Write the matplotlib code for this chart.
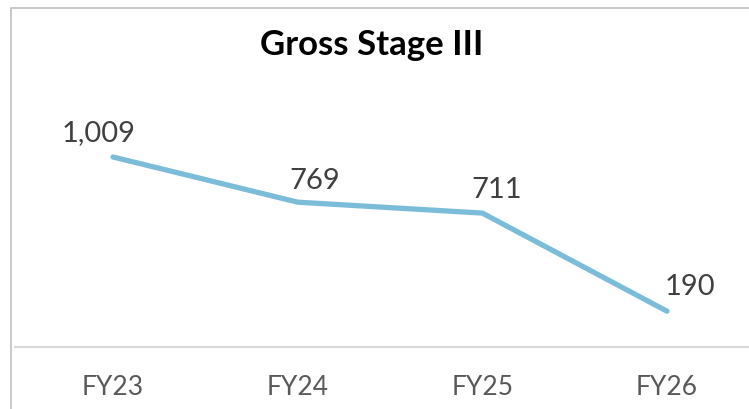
import matplotlib.pyplot as plt
from matplotlib.patches import Rectangle

# data
years = ["FY23", "FY24", "FY25", "FY26"]
gross_stage3 = [1009, 769, 711, 190]

fig = plt.figure(figsize=(7.49, 4.09), dpi=100)
ax = fig.add_axes([15/749, 1-347/409, 1-15/749, (347-121)/409])

x = list(range(len(years)))
ax.plot(x, gross_stage3, color="#7BBDD9", lw=3.8, solid_capstyle="round")

# label offsets in pixels (dx, dy) from each point
offs = [(-14, 24), (17, 21), (14, 23), (23, 24)]
for i, v in enumerate(gross_stage3):
    dx, dy = offs[i]
    ax.annotate(f"{v:,}", (i, v), xytext=(dx*0.72, dy*0.72), textcoords="offset points",
                ha="center", va="center", fontsize=21, color="#404040", family="Lato")

ax.set_xlim(-(113-15)/184.67, 3 + (749-667)/184.67)
ax.set_ylim(0, 1200)
ax.set_xticks(x)
ax.set_xticklabels(years, fontsize=19, color="#595959", family="Lato")
ax.tick_params(axis="x", length=0, pad=20)
ax.set_yticks([])
for s in ["top", "right", "left"]:
    ax.spines[s].set_visible(False)
ax.spines["bottom"].set_color("#D9D9D9")
ax.spines["bottom"].set_linewidth(1.5)

fig.text(372/749, 1-45/409, "Gross Stage III", ha="center", va="center",
         fontsize=25, fontweight="bold", family="Lato", color="black")

# chart border (cut off on the right and bottom)
fig.patches.append(Rectangle((11/749, -0.1), 1.2, 1-8/409+0.1, transform=fig.transFigure,
                             fill=False, ec="#BFBFBF", lw=1.2))

fig.savefig("out.png", dpi=100)
